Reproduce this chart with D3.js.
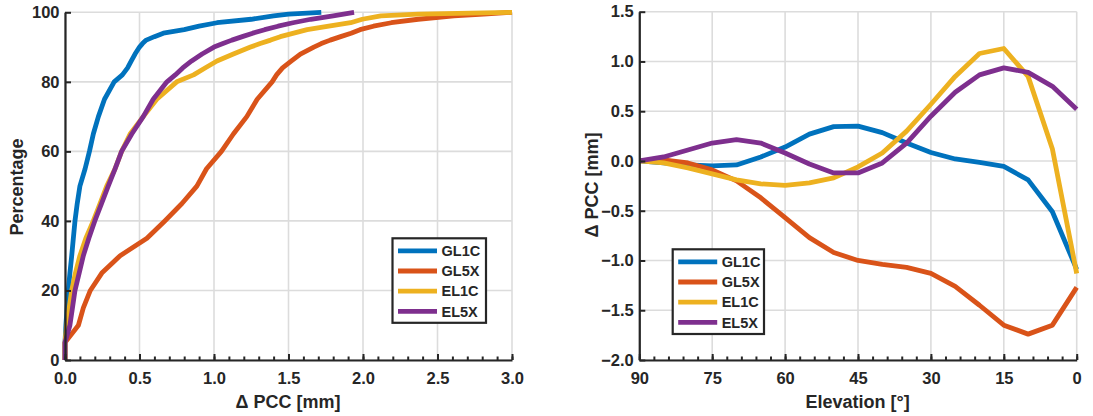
<!DOCTYPE html>
<html>
<head>
<meta charset="utf-8">
<script src="https://cdn.jsdelivr.net/npm/d3@7"></script>
<style>
  html, body { margin: 0; padding: 0; background: #fff; }
  svg text { font-family: "Liberation Sans", Arial, Helvetica, sans-serif; font-weight: bold; fill: #262626; }
</style>
</head>
<body>
<div id="chart"></div>
<script>
"use strict";
// series names and colours (MATLAB default order)
const seriesNames = ["GL1C", "GL5X", "EL1C", "EL5X"];
const seriesColors = ["#0072BD", "#D95319", "#EDB120", "#7E2F8E"];

// left panel: cumulative percentage vs. delta PCC [mm]
const cdfPercent = [0, 5, 10, 15, 20, 25, 30, 35, 40, 45, 50, 55, 60, 65, 70, 75, 80, 82, 84, 86, 88, 90, 91, 92, 93, 94, 95, 96, 97, 98, 99, 99.5, 100];
const cdfGL1C = [0, 0, 0.006, 0.014, 0.022, 0.033, 0.045, 0.056, 0.067, 0.082, 0.10, 0.135, 0.164, 0.19, 0.224, 0.265, 0.33, 0.385, 0.42, 0.445, 0.47, 0.50, 0.52, 0.545, 0.60, 0.66, 0.80, 0.90, 1.02, 1.25, 1.40, 1.50, 1.72];
const cdfGL5X = [0, 0, 0.09, 0.123, 0.17, 0.247, 0.37, 0.55, 0.67, 0.785, 0.885, 0.95, 1.05, 1.13, 1.22, 1.29, 1.39, 1.42, 1.46, 1.52, 1.58, 1.67, 1.72, 1.78, 1.85, 1.92, 1.98, 2.07, 2.19, 2.37, 2.61, 2.81, 3.0];
const cdfEL1C = [0, 0, 0.011, 0.028, 0.045, 0.07, 0.10, 0.14, 0.19, 0.235, 0.28, 0.336, 0.38, 0.437, 0.525, 0.616, 0.75, 0.863, 0.94, 1.02, 1.13, 1.245, 1.31, 1.38, 1.445, 1.535, 1.625, 1.77, 1.917, 1.995, 2.12, 2.37, 3.0];
const cdfEL5X = [0, 0, 0.033, 0.05, 0.067, 0.095, 0.123, 0.16, 0.20, 0.245, 0.29, 0.336, 0.38, 0.448, 0.525, 0.592, 0.684, 0.74, 0.79, 0.85, 0.92, 1.00, 1.06, 1.12, 1.19, 1.26, 1.34, 1.43, 1.53, 1.65, 1.80, 1.87, 1.94];
const leftXTicks = [0, 0.5, 1.0, 1.5, 2.0, 2.5, 3.0];
const leftYTicks = [0, 20, 40, 60, 80, 100];

// right panel: delta PCC [mm] vs. elevation [deg]
const elevation = [90, 85, 80, 75, 70, 65, 60, 55, 50, 45, 40, 35, 30, 25, 20, 15, 10, 5, 0];
const elvGL1C = [0, -0.02, -0.04, -0.05, -0.04, 0.04, 0.14, 0.27, 0.345, 0.35, 0.285, 0.18, 0.085, 0.02, -0.015, -0.055, -0.19, -0.51, -1.09];
const elvGL5X = [0, 0.01, -0.02, -0.09, -0.20, -0.37, -0.57, -0.77, -0.92, -1.00, -1.04, -1.07, -1.13, -1.26, -1.45, -1.65, -1.74, -1.65, -1.27];
const elvEL1C = [0, -0.02, -0.07, -0.13, -0.19, -0.23, -0.245, -0.22, -0.17, -0.06, 0.08, 0.30, 0.57, 0.85, 1.08, 1.13, 0.85, 0.12, -1.13];
const elvEL5X = [0, 0.04, 0.11, 0.18, 0.215, 0.18, 0.08, -0.03, -0.12, -0.12, -0.02, 0.18, 0.45, 0.69, 0.865, 0.935, 0.89, 0.75, 0.52];
const rightXTicks = [90, 75, 60, 45, 30, 15, 0];
const rightYTicks = [-2.0, -1.5, -1.0, -0.5, 0.0, 0.5, 1.0, 1.5];

const W = 1093, H = 416;
const svg = d3.select("#chart").append("svg").attr("width", W).attr("height", H);

const axisColor = "#262626";
const gridColor = "#dcdcdc";
const lineW = 4.8;

function drawPanel(opt) {
  const g = svg.append("g");
  const x = d3.scaleLinear().domain(opt.xDomain).range([opt.left, opt.right]);
  const y = d3.scaleLinear().domain(opt.yDomain).range([opt.bottom, opt.top]);

  // grid
  g.append("g").selectAll("line").data(opt.xTicks).join("line")
    .attr("x1", d => x(d)).attr("x2", d => x(d))
    .attr("y1", opt.top).attr("y2", opt.bottom)
    .attr("stroke", gridColor).attr("stroke-width", 1.6);
  g.append("g").selectAll("line").data(opt.yTicks).join("line")
    .attr("x1", opt.left).attr("x2", opt.right)
    .attr("y1", d => y(d)).attr("y2", d => y(d))
    .attr("stroke", gridColor).attr("stroke-width", 1.6);

  // series
  const line = d3.line().x(d => x(d[0])).y(d => y(d[1]));
  opt.series.forEach((pts, i) => {
    g.append("path").datum(pts)
      .attr("d", line)
      .attr("fill", "none")
      .attr("stroke", seriesColors[i])
      .attr("stroke-width", lineW)
      .attr("stroke-linejoin", "round");
  });

  // minor x ticks
  const minor = g.append("g").attr("transform", `translate(0,${opt.bottom})`)
    .call(d3.axisBottom(x).tickValues(opt.xMinor).tickSize(-3.5).tickFormat(""));
  minor.select(".domain").remove();
  minor.selectAll("line").attr("stroke", axisColor).attr("stroke-width", 2);

  // x axis
  const xa = g.append("g").attr("transform", `translate(0,${opt.bottom})`)
    .call(d3.axisBottom(x).tickValues(opt.xTicks).tickSize(-6).tickSizeOuter(0)
      .tickPadding(12.5).tickFormat(opt.xFormat));
  xa.select(".domain").attr("stroke", axisColor).attr("stroke-width", 2.2);
  xa.selectAll("line").attr("stroke", axisColor).attr("stroke-width", 2);
  xa.selectAll("text").style("font-size", "16.5px").attr("fill", axisColor);

  // y axis
  const ya = g.append("g").attr("transform", `translate(${opt.left},0)`)
    .call(d3.axisLeft(y).tickValues(opt.yTicks).tickSize(-6).tickSizeOuter(0)
      .tickPadding(5.5).tickFormat(opt.yFormat));
  ya.select(".domain").attr("stroke", axisColor).attr("stroke-width", 2.2);
  ya.selectAll("line").attr("stroke", axisColor).attr("stroke-width", 2);
  ya.selectAll("text").style("font-size", "16.5px").attr("fill", axisColor);

  // axis labels
  g.append("text").attr("x", opt.xLabelX).attr("y", 407.5)
    .attr("text-anchor", "middle").style("font-size", "18px").text(opt.xLabel);
  g.append("text")
    .attr("transform", `translate(${opt.yLabelX},${opt.yLabelY}) rotate(-90)`)
    .attr("text-anchor", "middle").style("font-size", "18px").text(opt.yLabel);

  // legend
  const L = opt.legend;
  const lg = g.append("g");
  lg.append("rect").attr("x", L.x).attr("y", L.y).attr("width", L.w).attr("height", L.h)
    .attr("fill", "#fff").attr("stroke", axisColor).attr("stroke-width", 2.2);
  seriesNames.forEach((name, i) => {
    const cy = L.y + 12.5 + i * 20.2;
    lg.append("line").attr("x1", L.x + 5.5).attr("x2", L.x + 44.5)
      .attr("y1", cy).attr("y2", cy)
      .attr("stroke", seriesColors[i]).attr("stroke-width", lineW);
    lg.append("text").attr("x", L.x + 49).attr("y", cy).attr("dy", "0.36em")
      .style("font-size", "14.5px").text(name);
  });
}

const cdfSeries = [cdfGL1C, cdfGL5X, cdfEL1C, cdfEL5X]
  .map(xs => xs.map((v, i) => [v, cdfPercent[i]]));
const elvSeries = [elvGL1C, elvGL5X, elvEL1C, elvEL5X]
  .map(ys => ys.map((v, i) => [elevation[i], v]));

drawPanel({
  left: 65, right: 512, top: 12.3, bottom: 360,
  xDomain: [0, 3], yDomain: [0, 100],
  xTicks: leftXTicks, yTicks: leftYTicks,
  xMinor: d3.range(0, 31).map(d => d / 10),
  xFormat: d3.format(".1f"), yFormat: d3.format("d"),
  series: cdfSeries,
  xLabel: "\u0394 PCC [mm]", xLabelX: 288,
  yLabel: "Percentage", yLabelX: 23, yLabelY: 187,
  legend: { x: 392.5, y: 238.3, w: 93.5, h: 84.5 }
});

drawPanel({
  left: 639.3, right: 1076.7, top: 11.7, bottom: 360,
  xDomain: [90, 0], yDomain: [-2, 1.5],
  xTicks: rightXTicks, yTicks: rightYTicks,
  xMinor: d3.range(0, 91, 3),
  xFormat: d3.format("d"), yFormat: d3.format(".1f"),
  series: elvSeries,
  xLabel: "Elevation [\u00b0]", xLabelX: 857.7,
  yLabel: "\u0394 PCC [mm]", yLabelX: 598, yLabelY: 185,
  legend: { x: 672.7, y: 249.3, w: 91.3, h: 84.7 }
});
</script>
</body>
</html>
